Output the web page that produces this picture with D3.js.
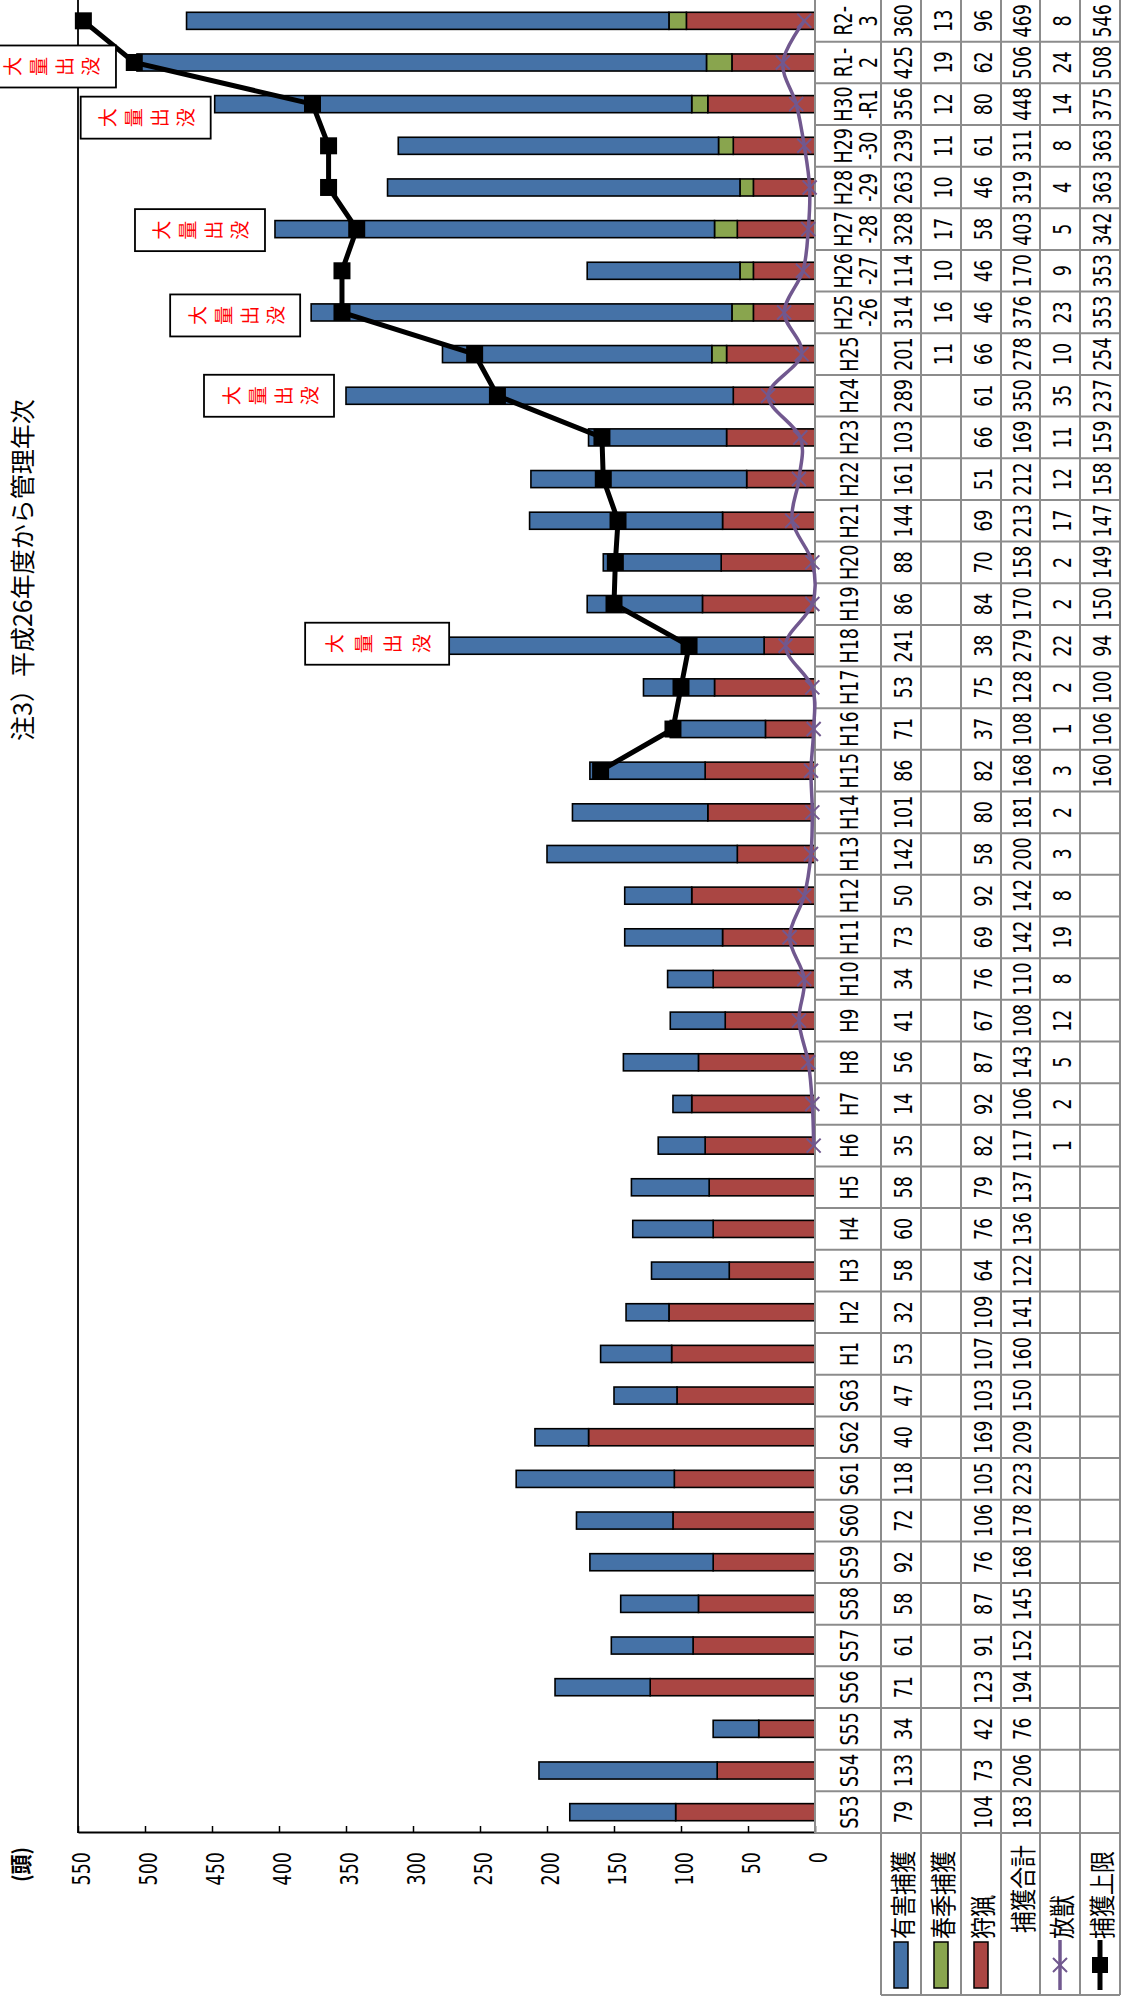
<!DOCTYPE html>
<html>
<head>
<meta charset="utf-8">
<script src="https://cdn.jsdelivr.net/npm/d3@7"></script>
<style>
  body { margin: 0; background: #fff; }
  svg { display: block; }
</style>
</head>
<body>
<svg id="chart" width="1124" height="1999"></svg>
<script>
// Fiscal years (Showa / Heisei / Reiwa), oldest first
const categories = ["S53","S54","S55","S56","S57","S58","S59","S60","S61","S62","S63",
  "H1","H2","H3","H4","H5","H6","H7","H8","H9","H10","H11","H12","H13","H14","H15","H16",
  "H17","H18","H19","H20","H21","H22","H23","H24","H25",
  "H25-26","H26-27","H27-28","H28-29","H29-30","H30-R1","R1-2","R2-3"];

// Category labels as printed in the data table (two lines for management years)
const tickLabels = ["S53","S54","S55","S56","S57","S58","S59","S60","S61","S62","S63",
  "H1","H2","H3","H4","H5","H6","H7","H8","H9","H10","H11","H12","H13","H14","H15","H16",
  "H17","H18","H19","H20","H21","H22","H23","H24","H25",
  "H25\n-26","H26\n-27","H27\n-28","H28\n-29","H29\n-30","H30\n-R1","R1-\n2","R2-\n3"];

// 有害捕獲 (nuisance control captures)
const pestCapture = [79,133,34,71,61,58,92,72,118,40,47,
  53,32,58,60,58,35,14,56,41,34,73,50,142,101,86,71,
  53,241,86,88,144,161,103,289,201,
  314,114,328,263,239,356,425,360];

// 春季捕獲 (spring captures)
const springCapture = [null,null,null,null,null,null,null,null,null,null,null,
  null,null,null,null,null,null,null,null,null,null,null,null,null,null,null,null,
  null,null,null,null,null,null,null,null,11,
  16,10,17,10,11,12,19,13];

// 狩猟 (hunting)
const hunting = [104,73,42,123,91,87,76,106,105,169,103,
  107,109,64,76,79,82,92,87,67,76,69,92,58,80,82,37,
  75,38,84,70,69,51,66,61,66,
  46,46,58,46,61,80,62,96];

// 捕獲合計 (total captures)
const totalCapture = [183,206,76,194,152,145,168,178,223,209,150,
  160,141,122,136,137,117,106,143,108,110,142,142,200,181,168,108,
  128,279,170,158,213,212,169,350,278,
  376,170,403,319,311,448,506,469];

// 放獣 (released)
const released = [null,null,null,null,null,null,null,null,null,null,null,
  null,null,null,null,null,1,2,5,12,8,19,8,3,2,3,1,
  2,22,2,2,17,12,11,35,10,
  23,9,5,4,8,14,24,8];

// 捕獲上限 (capture ceiling)
const captureCap = [null,null,null,null,null,null,null,null,null,null,null,
  null,null,null,null,null,null,null,null,null,null,null,null,null,null,160,106,
  100,94,150,149,147,158,159,237,254,
  353,353,342,363,363,375,508,546];

// Value axis ticks
const valueTicks = [0,50,100,150,200,250,300,350,400,450,500,550];

// Years flagged as mass appearances
const calloutYears = ["H18","H24","H25-26","H27-28","H30-R1","R1-2"];
const calloutText = "大量出没";

// Series names shown in the data-table legend
const seriesNames = ["有害捕獲","春季捕獲","狩猟","捕獲合計","放獣","捕獲上限"];
const unitLabel = "(頭)";
const noteText = "注3）平成26年度から管理年次";

// ---------------------------------------------------------------
// Layout: the chart is built in a landscape frame (1999 x 1124)
// and turned a quarter turn counter-clockwise onto the page.
const W = 1999;
const C = {
  blue: "#4572A7", green: "#89A54E", red: "#AA4643", purple: "#71588F",
  grid: "#8c8c8c"
};
const LATIN = "'DejaVu Sans', 'Noto Sans', sans-serif";
const CJK = "'Noto Sans CJK JP', 'Noto Sans', sans-serif";

const plot = { left: 166, right: W, top: 78, bottom: 815 };
const tableRows = [881, 921, 961, 1001, 1040, 1080, 1120]; // row edges under the label row
const legendLeft = 4;

// Callout placement tweaks: [shift across band, shift along value axis, box length]
const calloutLayout = [[2, 8, 144], [0, -12, 130], [-3, -11, 130], [-1, -10, 130], [-13.5, -4, 130], [-4, -21, 130]];

const svg = d3.select("#chart");
const root = svg.append("g").attr("transform", `translate(0,${W}) rotate(-90)`);

const x = d3.scaleBand().domain(categories).range([plot.left, plot.right]).padding(0);
const y = d3.scaleLinear().domain([0, 550]).range([plot.bottom, plot.top]);
const bw = x.bandwidth();
const barW = bw * 0.41;
const cx = c => x(c) + bw / 2;

function label(parent, px, py, str, o = {}) {
  const size = o.size || 17.5, sy = o.sy || 1.38;
  return parent.append("text")
    .attr("transform", `translate(${px},${py}) scale(1,${sy})`)
    .attr("text-anchor", o.anchor || "middle")
    .attr("dominant-baseline", "central")
    .style("font-family", o.family || LATIN)
    .style("font-size", size + "px")
    .style("font-weight", o.weight || "normal")
    .attr("fill", o.fill || "#000")
    .text(str);
}

// ---- stacked bars: hunting, spring, nuisance control ----
const rows = categories.map((c, i) => ({
  cat: c, hunting: hunting[i] || 0, spring: springCapture[i] || 0, pest: pestCapture[i] || 0
}));
const stack = d3.stack().keys(["hunting", "spring", "pest"])(rows);
const colorOf = { hunting: C.red, spring: C.green, pest: C.blue };

const gBars = root.append("g");
stack.forEach(layer => {
  gBars.selectAll(null).data(layer.filter(d => d[1] > d[0])).join("rect")
    .attr("x", d => cx(d.data.cat) - barW / 2)
    .attr("width", barW)
    .attr("y", d => y(d[1]))
    .attr("height", d => y(d[0]) - y(d[1]))
    .attr("fill", colorOf[layer.key])
    .attr("stroke", "#000")
    .attr("stroke-width", 1.6);
});

// ---- plot frame and value axis ----
root.append("line").attr("x1", plot.left).attr("x2", plot.right)
  .attr("y1", plot.top).attr("y2", plot.top).attr("stroke", "#000").attr("stroke-width", 1.8);

const yAxis = d3.axisLeft(y).tickValues(valueTicks).tickSizeInner(-7).tickSizeOuter(0).tickPadding(20);
const gAxis = root.append("g").attr("transform", `translate(${plot.left},0)`).call(yAxis);
gAxis.select(".domain").attr("stroke", "#000").attr("stroke-width", 1.8);
gAxis.selectAll(".tick line").attr("stroke", "#000").attr("stroke-width", 1.5);
gAxis.selectAll(".tick text").remove();
valueTicks.forEach(v => label(root, 147, y(v) + 3, String(v), { anchor: "end", size: 17.5 }));

label(root, 152, 20, unitLabel, { anchor: "end", family: CJK, size: 20, weight: "bold", sy: 1.1 });
label(root, 1258, 21, noteText, { anchor: "start", family: CJK, size: 25, sy: 1.0 });

// ---- data table ----
const gTable = root.append("g");
const tableBottom = tableRows[tableRows.length - 1];
// vertical cell borders
categories.forEach((c, i) => {
  gTable.append("line").attr("x1", x(c)).attr("x2", x(c))
    .attr("y1", plot.bottom).attr("y2", tableBottom)
    .attr("stroke", C.grid).attr("stroke-width", 2);
});
gTable.append("line").attr("x1", legendLeft).attr("x2", legendLeft)
  .attr("y1", tableRows[0]).attr("y2", tableBottom).attr("stroke", C.grid).attr("stroke-width", 2);
// horizontal borders
gTable.append("line").attr("x1", plot.left).attr("x2", plot.right)
  .attr("y1", plot.bottom).attr("y2", plot.bottom).attr("stroke", C.grid).attr("stroke-width", 2);
tableRows.forEach(r => {
  gTable.append("line").attr("x1", legendLeft).attr("x2", plot.right)
    .attr("y1", r).attr("y2", r).attr("stroke", C.grid).attr("stroke-width", 2);
});

// category labels
tickLabels.forEach((t, i) => {
  const parts = t.split("\n");
  if (parts.length === 1) {
    label(gTable, cx(categories[i]), 849, parts[0]);
  } else {
    label(gTable, cx(categories[i]), 843, parts[0]);
    label(gTable, cx(categories[i]), 868, parts[1]);
  }
});

// values
const tableSeries = [pestCapture, springCapture, hunting, totalCapture, released, captureCap];
tableSeries.forEach((arr, r) => {
  const mid = (tableRows[r] + tableRows[r + 1]) / 2 + 2;
  arr.forEach((v, i) => {
    if (v != null) label(gTable, cx(categories[i]), mid, String(v));
  });
});

// legend keys
const swatchColors = [C.blue, C.green, C.red];
seriesNames.forEach((name, r) => {
  const mid = (tableRows[r] + tableRows[r + 1]) / 2;
  if (r < 3) {
    gTable.append("rect").attr("x", 11).attr("y", mid - 7).attr("width", 46).attr("height", 14)
      .attr("fill", swatchColors[r]).attr("stroke", "#000").attr("stroke-width", 1.5);
  } else if (r === 4) {
    gTable.append("line").attr("x1", 9).attr("x2", 59).attr("y1", mid).attr("y2", mid)
      .attr("stroke", C.purple).attr("stroke-width", 3.5);
    gTable.append("path").attr("d", `M${34 - 7},${mid - 7}L${34 + 7},${mid + 7}M${34 - 7},${mid + 7}L${34 + 7},${mid - 7}`)
      .attr("stroke", C.purple).attr("stroke-width", 2);
  } else if (r === 5) {
    gTable.append("line").attr("x1", 9).attr("x2", 59).attr("y1", mid).attr("y2", mid)
      .attr("stroke", "#000").attr("stroke-width", 5);
    gTable.append("rect").attr("x", 34 - 8).attr("y", mid - 8).attr("width", 16).attr("height", 16).attr("fill", "#000");
  }
  label(gTable, r === 3 ? 66 : 60, mid + 1, name, { anchor: "start", family: CJK, size: 22, sy: 1.18 });
});

// ---- 放獣 line (smoothed) ----
const relPts = categories.map((c, i) => ({ c, v: released[i] })).filter(d => d.v != null);
root.append("path").datum(relPts)
  .attr("d", d3.line().x(d => cx(d.c)).y(d => y(d.v)).curve(d3.curveCardinal.tension(0)))
  .attr("fill", "none").attr("stroke", C.purple).attr("stroke-width", 3.5);
root.selectAll(null).data(relPts).join("path")
  .attr("d", d => { const px = cx(d.c), py = y(d.v), s = 7;
    return `M${px - s},${py - s}L${px + s},${py + s}M${px - s},${py + s}L${px + s},${py - s}`; })
  .attr("stroke", C.purple).attr("stroke-width", 2).attr("fill", "none");

// ---- 捕獲上限 line ----
const capPts = categories.map((c, i) => ({ c, v: captureCap[i] })).filter(d => d.v != null);
root.append("path").datum(capPts)
  .attr("d", d3.line().x(d => cx(d.c)).y(d => y(d.v)))
  .attr("fill", "none").attr("stroke", "#000").attr("stroke-width", 5);
root.selectAll(null).data(capPts).join("rect")
  .attr("x", d => cx(d.c) - 8.5).attr("y", d => y(d.v) - 8.5)
  .attr("width", 17).attr("height", 17).attr("fill", "#000");

// ---- mass-appearance callouts (vertical text boxes) ----
calloutYears.forEach((c, k) => {
  const i = categories.indexOf(c);
  const [dx, dy, len] = calloutLayout[k];
  const bx = cx(c) + dx;
  const bottom = y(totalCapture[i]) + dy;
  const top = bottom - len;
  const g = root.append("g");
  g.append("rect").attr("x", bx - 21).attr("y", top).attr("width", 42).attr("height", len)
    .attr("fill", "#fff").attr("stroke", "#000").attr("stroke-width", 1.8);
  Array.from(calloutText).forEach((ch, j) => {
    g.append("text").attr("x", bx).attr("y", top + len * (0.2 + 0.2 * j))
      .attr("text-anchor", "middle").attr("dominant-baseline", "central")
      .style("font-family", CJK).style("font-size", "19px")
      .attr("fill", "#ff0000").text(ch);
  });
});
</script>
</body>
</html>
